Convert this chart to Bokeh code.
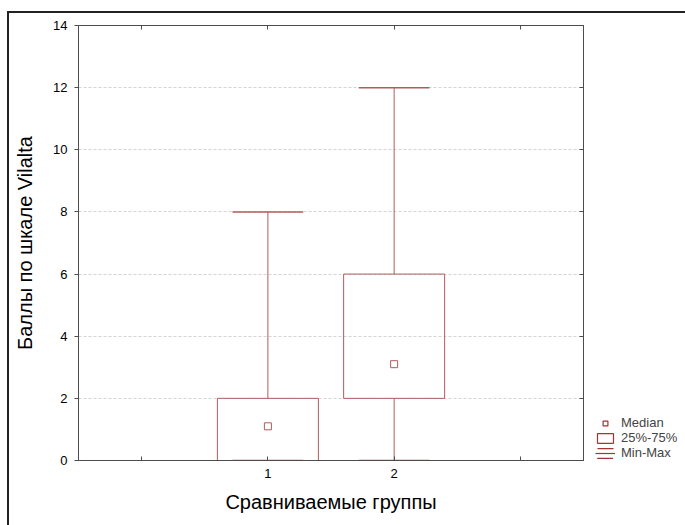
from bokeh.plotting import figure
from bokeh.layouts import row
from bokeh.models import (Range1d, FixedTicker, LinearAxis, Legend, LegendItem,
                          ColumnDataSource)
from bokeh.transform import dodge
from bokeh.embed import file_html
from bokeh.resources import INLINE

# ---- data ----
groups = [1, 2]
group_labels = ["1", "2"]
q1 = [0, 2]
q3 = [2, 6]
medians = [1.1, 3.1]
mins = [0, 0]
maxs = [8, 12]
y_ticks = [0, 2, 4, 6, 8, 10, 12, 14]
x_ticks = [0, 1, 2, 3]
legend_labels = ["Median", "25%-75%", "Min-Max"]

COLOR = "#b05c5c"
LEG = "#a03535"
AX = "#4d4d4d"
FONT = "Liberation Sans"

p = figure(frame_width=505, frame_height=435,
           x_range=Range1d(-0.5, 3.5), y_range=Range1d(0, 14),
           output_backend="svg", toolbar_location=None,
           min_border_left=78, min_border_right=12,
           min_border_top=25, min_border_bottom=65)
p.outline_line_color = AX
p.border_fill_color = None
p.background_fill_color = "white"
p.styles = {"box-shadow": "inset 7px 11px 0 0 white, inset 9px 13px 0 0 #222222"}
p.xgrid.visible = False
p.ygrid.ticker = FixedTicker(ticks=y_ticks)
p.ygrid.grid_line_color = "#d4d4d4"
p.ygrid.grid_line_dash = "3 2"

# axes
xa = p.xaxis[0]
xa.ticker = FixedTicker(ticks=x_ticks)
xa.major_label_overrides = {0: "", 1: group_labels[0], 2: group_labels[1], 3: ""}
xa.major_tick_in = 4
xa.major_tick_out = 0
xa.minor_tick_line_color = None
xa.major_label_standoff = 8
xa.axis_label = "Сравниваемые группы"
xa.axis_label_standoff = 10

ya = p.yaxis[0]
ya.ticker = FixedTicker(ticks=y_ticks)
ya.major_tick_in = 0
ya.major_tick_out = 4
ya.minor_tick_line_color = None
ya.major_label_standoff = 7
ya.axis_label = "Баллы по шкале Vilalta"
ya.axis_label_standoff = 14

for a in (xa, ya):
    a.axis_line_color = AX
    a.major_tick_line_color = AX
    a.major_label_text_font = FONT
    a.major_label_text_font_size = "13px"
    a.major_label_text_color = "black"
    a.axis_label_text_font = FONT
    a.axis_label_text_font_size = "20px"
    a.axis_label_text_font_style = "normal"
    a.axis_label_text_color = "black"

top = LinearAxis(ticker=FixedTicker(ticks=x_ticks), major_tick_in=4, major_tick_out=0,
                 minor_tick_line_color=None,
                 major_label_overrides={t: "" for t in x_ticks},
                 major_label_standoff=0, axis_line_color=AX, major_tick_line_color=AX)
p.add_layout(top, "above")
right = LinearAxis(ticker=FixedTicker(ticks=y_ticks), major_tick_in=4, major_tick_out=0,
                   minor_tick_line_color=None,
                   major_label_overrides={t: "" for t in y_ticks},
                   major_label_standoff=0, axis_line_color=AX, major_tick_line_color=AX)
p.add_layout(right, "right")

src = ColumnDataSource(dict(x=groups, q1=q1, q3=q3, med=medians, lo=mins, hi=maxs))

# whiskers
p.segment(x0="x", x1="x", y0="q3", y1="hi", source=src, line_color=COLOR, line_width=1)
p.segment(x0="x", x1="x", y0="lo", y1="q1", source=src, line_color=COLOR, line_width=1)
p.segment(x0=dodge("x", -0.28), x1=dodge("x", 0.28), y0="hi", y1="hi", source=src,
          line_color=COLOR, line_width=1.5)
p.segment(x0=dodge("x", -0.28), x1=dodge("x", 0.28), y0="lo", y1="lo", source=src,
          line_color=COLOR, line_width=1.5)
# boxes
p.vbar(x="x", width=0.8, top="q3", bottom="q1", source=src,
       fill_color=None, line_color=COLOR, line_width=1)
# medians
p.scatter(x="x", y="med", source=src, marker="square", size=7,
          fill_color="white", line_color=COLOR, line_width=1)

# ---- legend panel (separate small figure to the right) ----
q = figure(width=90, height=525, x_range=Range1d(0, 1), y_range=Range1d(0, 1),
           output_backend="svg", toolbar_location=None,
           x_axis_location=None, y_axis_location=None,
           min_border=0, min_border_left=0, min_border_right=0,
           min_border_top=0, min_border_bottom=0)
q.outline_line_color = None
q.border_fill_color = None
q.background_fill_color = None
q.xgrid.visible = False
q.ygrid.visible = False
q.styles = {"box-shadow": "inset 0 11px 0 0 white, inset 0 13px 0 0 #222222"}

# legend-only renderers, kept outside the visible range of this small panel
r_med = q.scatter(x=[-5], y=[-5], marker="square", fill_color="white",
                  line_color=LEG, line_width=1.2)
r_box = q.quad(left=[-5], right=[-4], top=[-4], bottom=[-5], fill_color="white",
               line_color=LEG, line_width=1.2)
r_mm1 = q.quad(left=[-5], right=[-4], top=[-4], bottom=[-5], fill_color=None,
               line_color=LEG, line_width=1.2, line_dash="16 10")
r_mm2 = q.vspan(x=[-5], line_color=LEG, line_width=1.2)

legend = Legend(items=[LegendItem(label=legend_labels[0], renderers=[r_med]),
                       LegendItem(label=legend_labels[1], renderers=[r_box]),
                       LegendItem(label=legend_labels[2], renderers=[r_mm1, r_mm2])],
                location=(0, 0), padding=0, margin=0, spacing=0,
                glyph_width=20, glyph_height=12, label_height=12, label_standoff=6,
                label_text_font=FONT, label_text_font_size="13px",
                border_line_color=None, background_fill_alpha=0)
q.add_layout(legend)

layout = row(p, q, spacing=0)
open("out.html", "w").write(file_html(layout, INLINE))
